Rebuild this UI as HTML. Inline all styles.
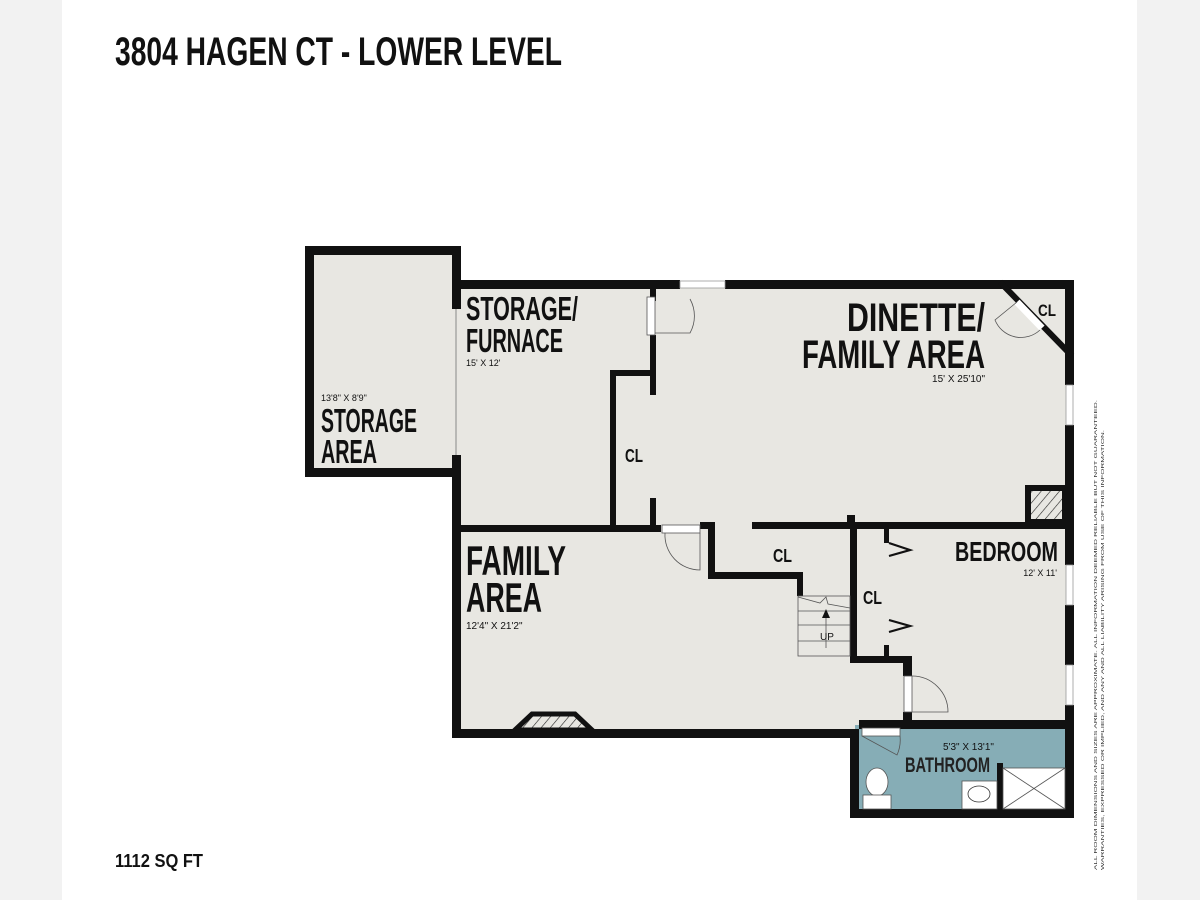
<!DOCTYPE html>
<html><head><meta charset="utf-8"><style>
html,body{margin:0;padding:0;width:1200px;height:900px;overflow:hidden;background:#f2f2f2}
svg{display:block}
.t{font-family:"Liberation Sans",sans-serif;font-weight:bold;fill:#111}
</style></head><body>
<svg width="1200" height="900" viewBox="0 0 1200 900" xmlns="http://www.w3.org/2000/svg">
<defs>
<pattern id="h" width="7" height="7" patternUnits="userSpaceOnUse" patternTransform="rotate(40)">
<rect width="7" height="7" fill="#e8e7e2"/><line x1="0" y1="0" x2="0" y2="7" stroke="#222" stroke-width="1.2"/></pattern>
</defs>
<rect x="0" y="0" width="1200" height="900" fill="#f2f2f2"/>
<rect x="62" y="0" width="1075" height="900" fill="#fff"/>
<text class="t" x="115" y="65" font-size="40" textLength="447" lengthAdjust="spacingAndGlyphs">3804 HAGEN CT - LOWER LEVEL</text>
<text class="t" x="115" y="867" font-size="18" textLength="88" lengthAdjust="spacingAndGlyphs">1112 SQ FT</text>

<rect x="310" y="251" width="146" height="222" fill="#e8e7e2"/>
<rect x="456" y="285" width="613" height="448" fill="#e8e7e2"/>
<rect x="855" y="725" width="214" height="88" fill="#86adb6"/>
<polygon points="1000,282 1072,282 1072,356" fill="#e8e7e2"/>

<g fill="#111">
<rect x="305" y="246" width="156" height="9"/>
<rect x="305" y="246" width="9" height="231"/>
<rect x="305" y="468" width="156" height="9"/>
<rect x="452" y="246" width="9" height="63"/>
<rect x="452" y="455" width="9" height="283"/>
<rect x="452" y="280" width="228" height="9"/>
<rect x="725" y="280" width="349" height="9"/>
<rect x="1065" y="280" width="9" height="105"/>
<rect x="1065" y="425" width="9" height="140"/>
<rect x="1065" y="605" width="9" height="60"/>
<rect x="1065" y="705" width="9" height="113"/>
<rect x="452" y="729" width="406" height="9"/>
<rect x="850" y="729" width="9" height="89"/>
<rect x="850" y="809" width="224" height="9"/>
<rect x="859" y="720" width="215" height="9"/>
<rect x="903" y="656" width="9" height="20"/>
<rect x="903" y="712" width="9" height="17"/>
<rect x="461" y="525" width="200" height="7"/>
<rect x="700" y="522" width="15" height="7"/>
<rect x="708" y="522" width="7" height="57"/>
<rect x="708" y="572" width="95" height="7"/>
<rect x="797" y="572" width="6" height="24"/>
<rect x="752" y="522" width="313" height="7"/>
<rect x="847" y="515" width="8" height="14"/>
<rect x="610" y="370" width="6" height="160"/>
<rect x="610" y="370" width="46" height="6"/>
<rect x="650" y="289" width="6" height="12"/>
<rect x="650" y="335" width="6" height="60"/>
<rect x="650" y="498" width="6" height="30"/>
<rect x="850" y="522" width="7" height="141"/>
<rect x="850" y="656" width="62" height="7"/>
<rect x="884" y="529" width="5" height="14"/>
<rect x="884" y="645" width="5" height="12"/>
<rect x="997" y="763" width="6" height="48"/>
</g>
<line x1="1000" y1="282" x2="1072" y2="356" stroke="#111" stroke-width="6"/>
<line x1="1017" y1="302" x2="1042" y2="328" stroke="#fff" stroke-width="7"/>
<path d="M1017,302 L995,320 A28,28 0 0 0 1040,330" fill="none" stroke="#555" stroke-width="0.8"/>
<g fill="#fff" stroke="#999" stroke-width="0.8">
<rect x="680" y="281" width="45" height="7"/>
<rect x="1066" y="385" width="7" height="40"/>
<rect x="1066" y="565" width="7" height="40"/>
<rect x="1066" y="665" width="7" height="40"/>
</g>
<line x1="456" y1="309" x2="456" y2="455" stroke="#888" stroke-width="1"/>
<g fill="#fff" stroke="#555" stroke-width="0.8">
<rect x="647" y="297" width="8" height="38"/>
<rect x="662" y="525" width="38" height="8"/>
<rect x="904" y="676" width="8" height="36"/>
<rect x="862" y="728" width="38" height="8"/>
</g>
<g fill="none" stroke="#555" stroke-width="0.8">
<path d="M655,333 L690,333 A35,35 0 0 0 690,299"/>
<path d="M665,533 A35,35 0 0 0 700,570 L700,533"/>
<path d="M912,712 L948,712 A36,36 0 0 0 912,676"/>
<path d="M862,736 L897,755 A36,36 0 0 0 900,736"/>
</g>
<g fill="none" stroke="#111" stroke-width="2.2">
<path d="M889,543 L910,550 L889,556"/>
<path d="M889,632 L910,626 L889,620"/>
</g>
<g stroke="#555" stroke-width="0.8" fill="none">
<rect x="798" y="596" width="52" height="60"/>
<line x1="798" y1="611" x2="850" y2="611"/>
<line x1="798" y1="625" x2="850" y2="625"/>
<line x1="798" y1="641" x2="850" y2="641"/>
<line x1="826" y1="612" x2="826" y2="648"/>
<path d="M798,597 L820,603 L826,597 L828,604 L850,608"/>
</g>
<polygon points="826,609 822,618 830,618" fill="#111"/>
<rect x="1028" y="488" width="37" height="34" fill="url(#h)" stroke="#111" stroke-width="6"/>
<polygon points="515,730 532,714 575,714 592,730" fill="url(#h)" stroke="#111" stroke-width="5"/>
<rect x="962" y="781" width="35" height="28" fill="#fff" stroke="#555" stroke-width="0.8"/>
<ellipse cx="979" cy="794" rx="11" ry="8" fill="none" stroke="#333" stroke-width="0.8"/>
<rect x="1003" y="768" width="62" height="41" fill="#fff" stroke="#555" stroke-width="0.8"/>
<line x1="1003" y1="768" x2="1065" y2="809" stroke="#555" stroke-width="0.8"/>
<line x1="1065" y1="768" x2="1003" y2="809" stroke="#555" stroke-width="0.8"/>
<ellipse cx="877" cy="782" rx="11" ry="14" fill="#fff" stroke="#555" stroke-width="0.8"/>
<rect x="863" y="795" width="28" height="14" fill="#fff" stroke="#555" stroke-width="0.8"/>

<g class="t">
<text x="466" y="320" font-size="33" textLength="112" lengthAdjust="spacingAndGlyphs">STORAGE/</text>
<text x="466" y="352" font-size="33" textLength="97" lengthAdjust="spacingAndGlyphs">FURNACE</text>
<text x="466" y="366" font-size="9" style="font-weight:normal">15' X 12'</text>
<text x="321" y="401" font-size="9" style="font-weight:normal">13'8" X 8'9"</text>
<text x="321" y="432" font-size="33" textLength="96" lengthAdjust="spacingAndGlyphs">STORAGE</text>
<text x="321" y="463" font-size="33" textLength="56" lengthAdjust="spacingAndGlyphs">AREA</text>
<text x="847" y="331" font-size="40" textLength="138" lengthAdjust="spacingAndGlyphs">DINETTE/</text>
<text x="802" y="368" font-size="40" textLength="183" lengthAdjust="spacingAndGlyphs">FAMILY AREA</text>
<text x="985" y="382" font-size="10" text-anchor="end" style="font-weight:normal">15' X 25'10"</text>
<text x="1038" y="316" font-size="17" textLength="18" lengthAdjust="spacingAndGlyphs">CL</text>
<text x="625" y="462" font-size="18" textLength="18" lengthAdjust="spacingAndGlyphs">CL</text>
<text x="466" y="575" font-size="42" textLength="100" lengthAdjust="spacingAndGlyphs">FAMILY</text>
<text x="466" y="612" font-size="42" textLength="76" lengthAdjust="spacingAndGlyphs">AREA</text>
<text x="466" y="629" font-size="10" style="font-weight:normal">12'4" X 21'2"</text>
<text x="773" y="562" font-size="18" textLength="19" lengthAdjust="spacingAndGlyphs">CL</text>
<text x="863" y="604" font-size="18" textLength="19" lengthAdjust="spacingAndGlyphs">CL</text>
<text x="955" y="561" font-size="28" textLength="103" lengthAdjust="spacingAndGlyphs">BEDROOM</text>
<text x="1057" y="576" font-size="9" text-anchor="end" style="font-weight:normal">12' X 11'</text>
<text x="820" y="640" font-size="10" style="font-weight:normal">UP</text>
<text x="905" y="772" font-size="21" textLength="85" lengthAdjust="spacingAndGlyphs" fill="#222">BATHROOM</text>
<text x="943" y="750" font-size="10" style="font-weight:normal">5'3" X 13'1"</text>
</g>
<text transform="translate(1097,870) rotate(-90)" font-family="Liberation Sans" font-size="4.5" fill="#333" textLength="470" lengthAdjust="spacingAndGlyphs">ALL ROOM DIMENSIONS AND SIZES ARE APPROXIMATE. ALL INFORMATION DEEMED RELIABLE BUT NOT GUARANTEED.</text>
<text transform="translate(1104,870) rotate(-90)" font-family="Liberation Sans" font-size="4.5" fill="#333" textLength="440" lengthAdjust="spacingAndGlyphs">WARRANTIES, EXPRESSED OR IMPLIED, AND ANY AND ALL LIABILITY ARISING FROM USE OF THIS INFORMATION.</text>
</svg>
</body></html>
